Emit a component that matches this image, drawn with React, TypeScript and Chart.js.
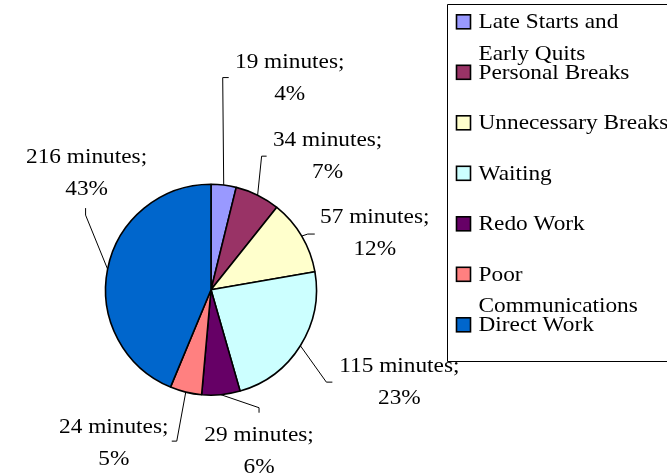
import React, { useEffect, useRef } from "react";
import { Chart, registerables } from "chart.js";

Chart.register(...registerables);

// ---- data ----
const categories: string[][] = [
  ["Late Starts and", "Early Quits"],
  ["Personal Breaks"],
  ["Unnecessary Breaks"],
  ["Waiting"],
  ["Redo Work"],
  ["Poor", "Communications"],
  ["Direct Work"],
];
const minutes: number[] = [19, 34, 57, 115, 29, 24, 216];
const percents: number[] = [4, 7, 12, 23, 6, 5, 43];
const colors: string[] = ["#9999FF", "#993366", "#FFFFCC", "#CCFFFF", "#660066", "#FF8080", "#0066CC"];

// ---- label layout (relative to the slice's outer-edge midpoint) ----
// elbow: bend point of leader line; tick: short end segment; label: text centre/baseline of line 1
const labelLayout = [
  { elbow: [-1, -107.5], tick: [6, 0], label: [66, -117] },
  { elbow: [4, -39], tick: [5, 0], label: [70, -49] },
  { elbow: [6, -2], tick: [7, 0], label: [73, -13] },
  { elbow: [26, 36.4], tick: [6, 0], label: [99, 26] },
  { elbow: [38, 13], tick: [0, 5], label: [38, 46.5] },
  { elbow: [-9, 49], tick: [-5, 0], label: [-72, 41] },
  { elbow: [-22, -54], tick: [0, -7], label: [-21, -106] },
];

const FONT = '22px "Liberation Serif", "Times New Roman", serif';
const SX = 1.06;
const LINE_H = 32;

function drawText(ctx: CanvasRenderingContext2D, text: string, x: number, y: number, align: CanvasTextAlign) {
  ctx.save();
  ctx.translate(x, y);
  ctx.scale(SX, 1);
  ctx.textAlign = align;
  ctx.textBaseline = "alphabetic";
  ctx.fillText(text, 0, 0);
  ctx.restore();
}

const overlayPlugin = {
  id: "overlay",
  afterDraw(chart: any) {
    const ctx: CanvasRenderingContext2D = chart.ctx;
    const meta = chart.getDatasetMeta(0);
    ctx.save();
    ctx.font = FONT;
    ctx.fillStyle = "#000";
    ctx.strokeStyle = "#000";
    ctx.lineWidth = 1;
    meta.data.forEach((arc: any, i: number) => {
      const { x, y, startAngle, endAngle, outerRadius } = arc.getProps(
        ["x", "y", "startAngle", "endAngle", "outerRadius"],
        true
      );
      const mid = (startAngle + endAngle) / 2;
      const px = x + outerRadius * Math.cos(mid);
      const py = y + outerRadius * Math.sin(mid);
      const L = labelLayout[i];
      const ex = px + L.elbow[0];
      const ey = py + L.elbow[1];
      ctx.beginPath();
      ctx.moveTo(px, py);
      ctx.lineTo(ex, ey);
      ctx.lineTo(ex + L.tick[0], ey + L.tick[1]);
      ctx.stroke();
      const lx = px + L.label[0];
      const ly = py + L.label[1];
      drawText(ctx, `${minutes[i]} minutes;`, lx, ly, "center");
      drawText(ctx, `${percents[i]}%`, lx, ly + LINE_H, "center");
    });

    // legend
    const boxLeft = 447.5;
    const boxTop = 4.5;
    const boxBottom = 361.5;
    ctx.strokeStyle = "#000";
    ctx.lineWidth = 1;
    ctx.beginPath();
    ctx.moveTo(chart.width + 5, boxTop);
    ctx.lineTo(boxLeft, boxTop);
    ctx.lineTo(boxLeft, boxBottom);
    ctx.lineTo(chart.width + 5, boxBottom);
    ctx.stroke();
    const labels: string[][] = chart.data.labels;
    labels.forEach((lines, i) => {
      const base = 28.3 + i * 50.5;
      ctx.fillStyle = colors[i];
      ctx.fillRect(456.5, base - 13.5, 14, 14);
      ctx.lineWidth = 1.6;
      ctx.strokeRect(456.5, base - 13.5, 14, 14);
      ctx.fillStyle = "#000";
      lines.forEach((t, j) => drawText(ctx, t, 478.5, base + j * 31.5, "left"));
    });
    ctx.restore();
  },
};

export default function App() {
  const ref = useRef<HTMLCanvasElement | null>(null);
  useEffect(() => {
    document.body.style.margin = "0";
    const chart = new Chart(ref.current!, {
      type: "pie",
      data: {
        labels: categories as any,
        datasets: [
          {
            data: minutes,
            backgroundColor: colors,
            borderColor: "#000",
            borderWidth: 1.6,
          },
        ],
      },
      options: {
        responsive: false,
        animation: false,
        layout: { padding: { left: 104.25, top: 183.5, right: 349.25, bottom: 77 } },
        plugins: { legend: { display: false }, tooltip: { enabled: false } },
      },
      plugins: [overlayPlugin],
    });
    return () => chart.destroy();
  }, []);
  return (
    <div style={{ position: "absolute", left: 0, top: 0, width: 667, height: 473, background: "#fff" }}>
      <canvas ref={ref} width={667} height={473} />
    </div>
  );
}
